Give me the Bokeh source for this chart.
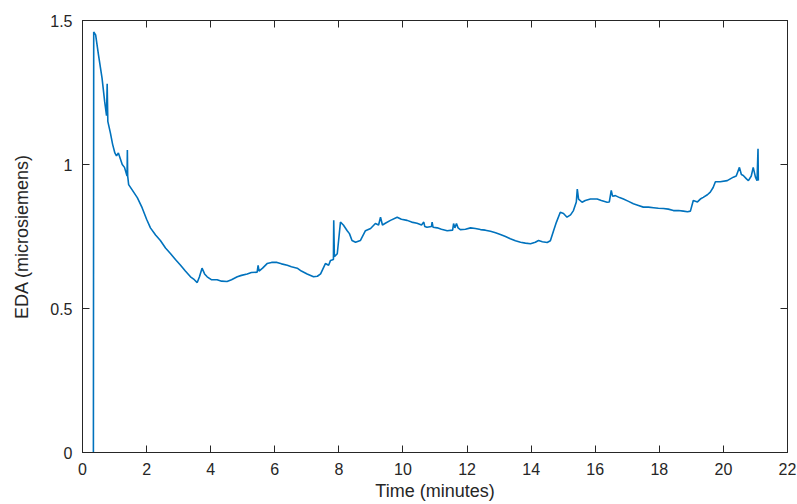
from bokeh.plotting import figure
from bokeh.models import LinearAxis, FixedTicker, Range1d
from bokeh.embed import file_html
from bokeh.resources import INLINE

# EDA trace (time in minutes, EDA in microsiemens)
time_min = [0.34, 0.35, 0.41, 0.50, 0.61, 0.69, 0.75, 0.77, 0.79, 0.87, 0.94, 1.01, 1.06, 1.12,
            1.24, 1.31, 1.39, 1.40, 1.41, 1.44, 1.56, 1.71, 1.86, 2.00, 2.12, 2.28, 2.43, 2.59,
            2.75, 2.90, 3.06, 3.21, 3.37, 3.49, 3.58, 3.65, 3.73, 3.81, 3.89, 4.02, 4.20, 4.34,
            4.51, 4.65, 4.83, 4.96, 5.14, 5.27, 5.45, 5.48, 5.51, 5.62, 5.76, 5.90, 6.07, 6.21,
            6.39, 6.52, 6.70, 6.83, 7.01, 7.21, 7.33, 7.43, 7.58, 7.68, 7.74, 7.83, 7.84, 7.86,
            7.95, 8.05, 8.14, 8.26, 8.33, 8.41, 8.52, 8.67, 8.83, 8.99, 9.14, 9.24, 9.30, 9.36,
            9.45, 9.61, 9.82, 9.95, 10.13, 10.27, 10.44, 10.58, 10.65, 10.68, 10.75, 10.89,
            10.91, 10.94, 11.07, 11.20, 11.38, 11.55, 11.58, 11.62, 11.67, 11.72, 11.79, 11.95,
            12.11, 12.26, 12.42, 12.57, 12.73, 12.89, 13.04, 13.20, 13.35, 13.51, 13.67, 13.82,
            13.98, 14.13, 14.23, 14.35, 14.50, 14.60, 14.70, 14.79, 14.91, 15.01, 15.12, 15.23,
            15.32, 15.41, 15.44, 15.48, 15.59, 15.69, 15.85, 16.06, 16.19, 16.37, 16.44, 16.50,
            16.54, 16.63, 16.76, 16.88, 17.04, 17.19, 17.35, 17.50, 17.66, 17.82, 17.97, 18.13,
            18.28, 18.44, 18.60, 18.75, 18.88, 18.97, 19.06, 19.19, 19.28, 19.37, 19.50, 19.59,
            19.68, 19.75, 19.90, 20.12, 20.31, 20.40, 20.50, 20.56, 20.62, 20.72, 20.78, 20.87,
            20.93, 21.00, 21.05, 21.08, 21.09]
eda_us = [0.0, 1.46, 1.45, 1.38, 1.30, 1.22, 1.17, 1.28, 1.15, 1.11, 1.07, 1.04, 1.03, 1.04,
          1.00, 0.99, 0.96, 1.05, 0.96, 0.93, 0.91, 0.885, 0.85, 0.81, 0.78, 0.755, 0.736, 0.71,
          0.69, 0.67, 0.65, 0.63, 0.61, 0.60, 0.59, 0.61, 0.64, 0.62, 0.61, 0.60, 0.60, 0.595,
          0.594, 0.60, 0.61, 0.615, 0.62, 0.625, 0.626, 0.65, 0.63, 0.64, 0.656, 0.66, 0.66, 0.655,
          0.65, 0.645, 0.64, 0.63, 0.62, 0.61, 0.612, 0.62, 0.656, 0.65, 0.667, 0.67, 0.806, 0.68,
          0.69, 0.80, 0.79, 0.77, 0.76, 0.736, 0.73, 0.736, 0.77, 0.778, 0.795, 0.79, 0.817, 0.79,
          0.796, 0.806, 0.817, 0.81, 0.806, 0.80, 0.796, 0.79, 0.80, 0.785, 0.782, 0.785,
          0.80, 0.782, 0.78, 0.775, 0.77, 0.772, 0.795, 0.78, 0.795, 0.78, 0.774, 0.775,
          0.78, 0.778, 0.774, 0.772, 0.768, 0.763, 0.757, 0.75, 0.742, 0.735, 0.73, 0.727,
          0.725, 0.73, 0.736, 0.732, 0.729, 0.735, 0.77, 0.80, 0.834, 0.83, 0.817, 0.825,
          0.84, 0.87, 0.915, 0.88, 0.869, 0.875, 0.88, 0.88, 0.875, 0.869, 0.87, 0.91,
          0.89, 0.892, 0.885, 0.88, 0.872, 0.864, 0.858, 0.852, 0.852, 0.85, 0.848, 0.847,
          0.845, 0.84, 0.84, 0.838, 0.836, 0.838, 0.875, 0.87, 0.88, 0.886, 0.895, 0.904,
          0.92, 0.94, 0.94, 0.944, 0.956, 0.96, 0.99, 0.965, 0.962, 0.95, 0.944, 0.96,
          0.99, 0.956, 0.944, 1.055, 0.944]

x_ticks = [0, 2, 4, 6, 8, 10, 12, 14, 16, 18, 20, 22]
y_ticks = [0, 0.5, 1, 1.5]
y_tick_labels = {0: "0", 0.5: "0.5", 1: "1", 1.5: "1.5"}

FONT = "Liberation Sans"
AX = "#262626"

p = figure(width=797, height=504, output_backend="svg", toolbar_location=None,
           x_range=Range1d(0, 22), y_range=Range1d(0, 1.5),
           min_border_left=82, min_border_right=10, min_border_top=20, min_border_bottom=52)
p.background_fill_color = "white"
p.border_fill_color = "white"
p.outline_line_color = AX
p.outline_line_width = 1
p.grid.visible = False

p.line(time_min, eda_us, line_color="#0072BD", line_width=1.6)

xa = p.xaxis[0]
xa.ticker = FixedTicker(ticks=x_ticks)
ya = p.yaxis[0]
ya.ticker = FixedTicker(ticks=y_ticks)
ya.major_label_overrides = y_tick_labels

for ax in (xa, ya):
    ax.major_tick_in = 7
    ax.major_tick_out = 0
    ax.minor_tick_in = 0
    ax.minor_tick_out = 0
    ax.axis_line_color = AX
    ax.major_tick_line_color = AX
    ax.major_label_text_font = FONT
    ax.major_label_text_font_size = "16px"
    ax.major_label_text_color = AX
    ax.axis_label_text_font = FONT
    ax.axis_label_text_font_size = "18px"
    ax.axis_label_text_font_style = "normal"
    ax.axis_label_text_color = AX

xa.axis_label = "Time (minutes)"
xa.major_label_standoff = 10
xa.axis_label_standoff = 3
ya.axis_label = "EDA (microsiemens)"
ya.major_label_standoff = 10
ya.axis_label_standoff = 15

# mirrored tick marks on top and right (box style), no labels
top = LinearAxis(ticker=FixedTicker(ticks=x_ticks), major_tick_in=7, major_tick_out=0,
                 minor_tick_in=0, minor_tick_out=0,
                 major_label_overrides={t: "" for t in x_ticks},
                 major_label_standoff=0, axis_line_color=AX, major_tick_line_color=AX)
right = LinearAxis(ticker=FixedTicker(ticks=y_ticks), major_tick_in=7, major_tick_out=0,
                   minor_tick_in=0, minor_tick_out=0,
                   major_label_overrides={t: "" for t in y_ticks},
                   major_label_standoff=0, axis_line_color=AX, major_tick_line_color=AX)
p.add_layout(top, "above")
p.add_layout(right, "right")

open("out.html", "w").write(file_html(p, INLINE))
